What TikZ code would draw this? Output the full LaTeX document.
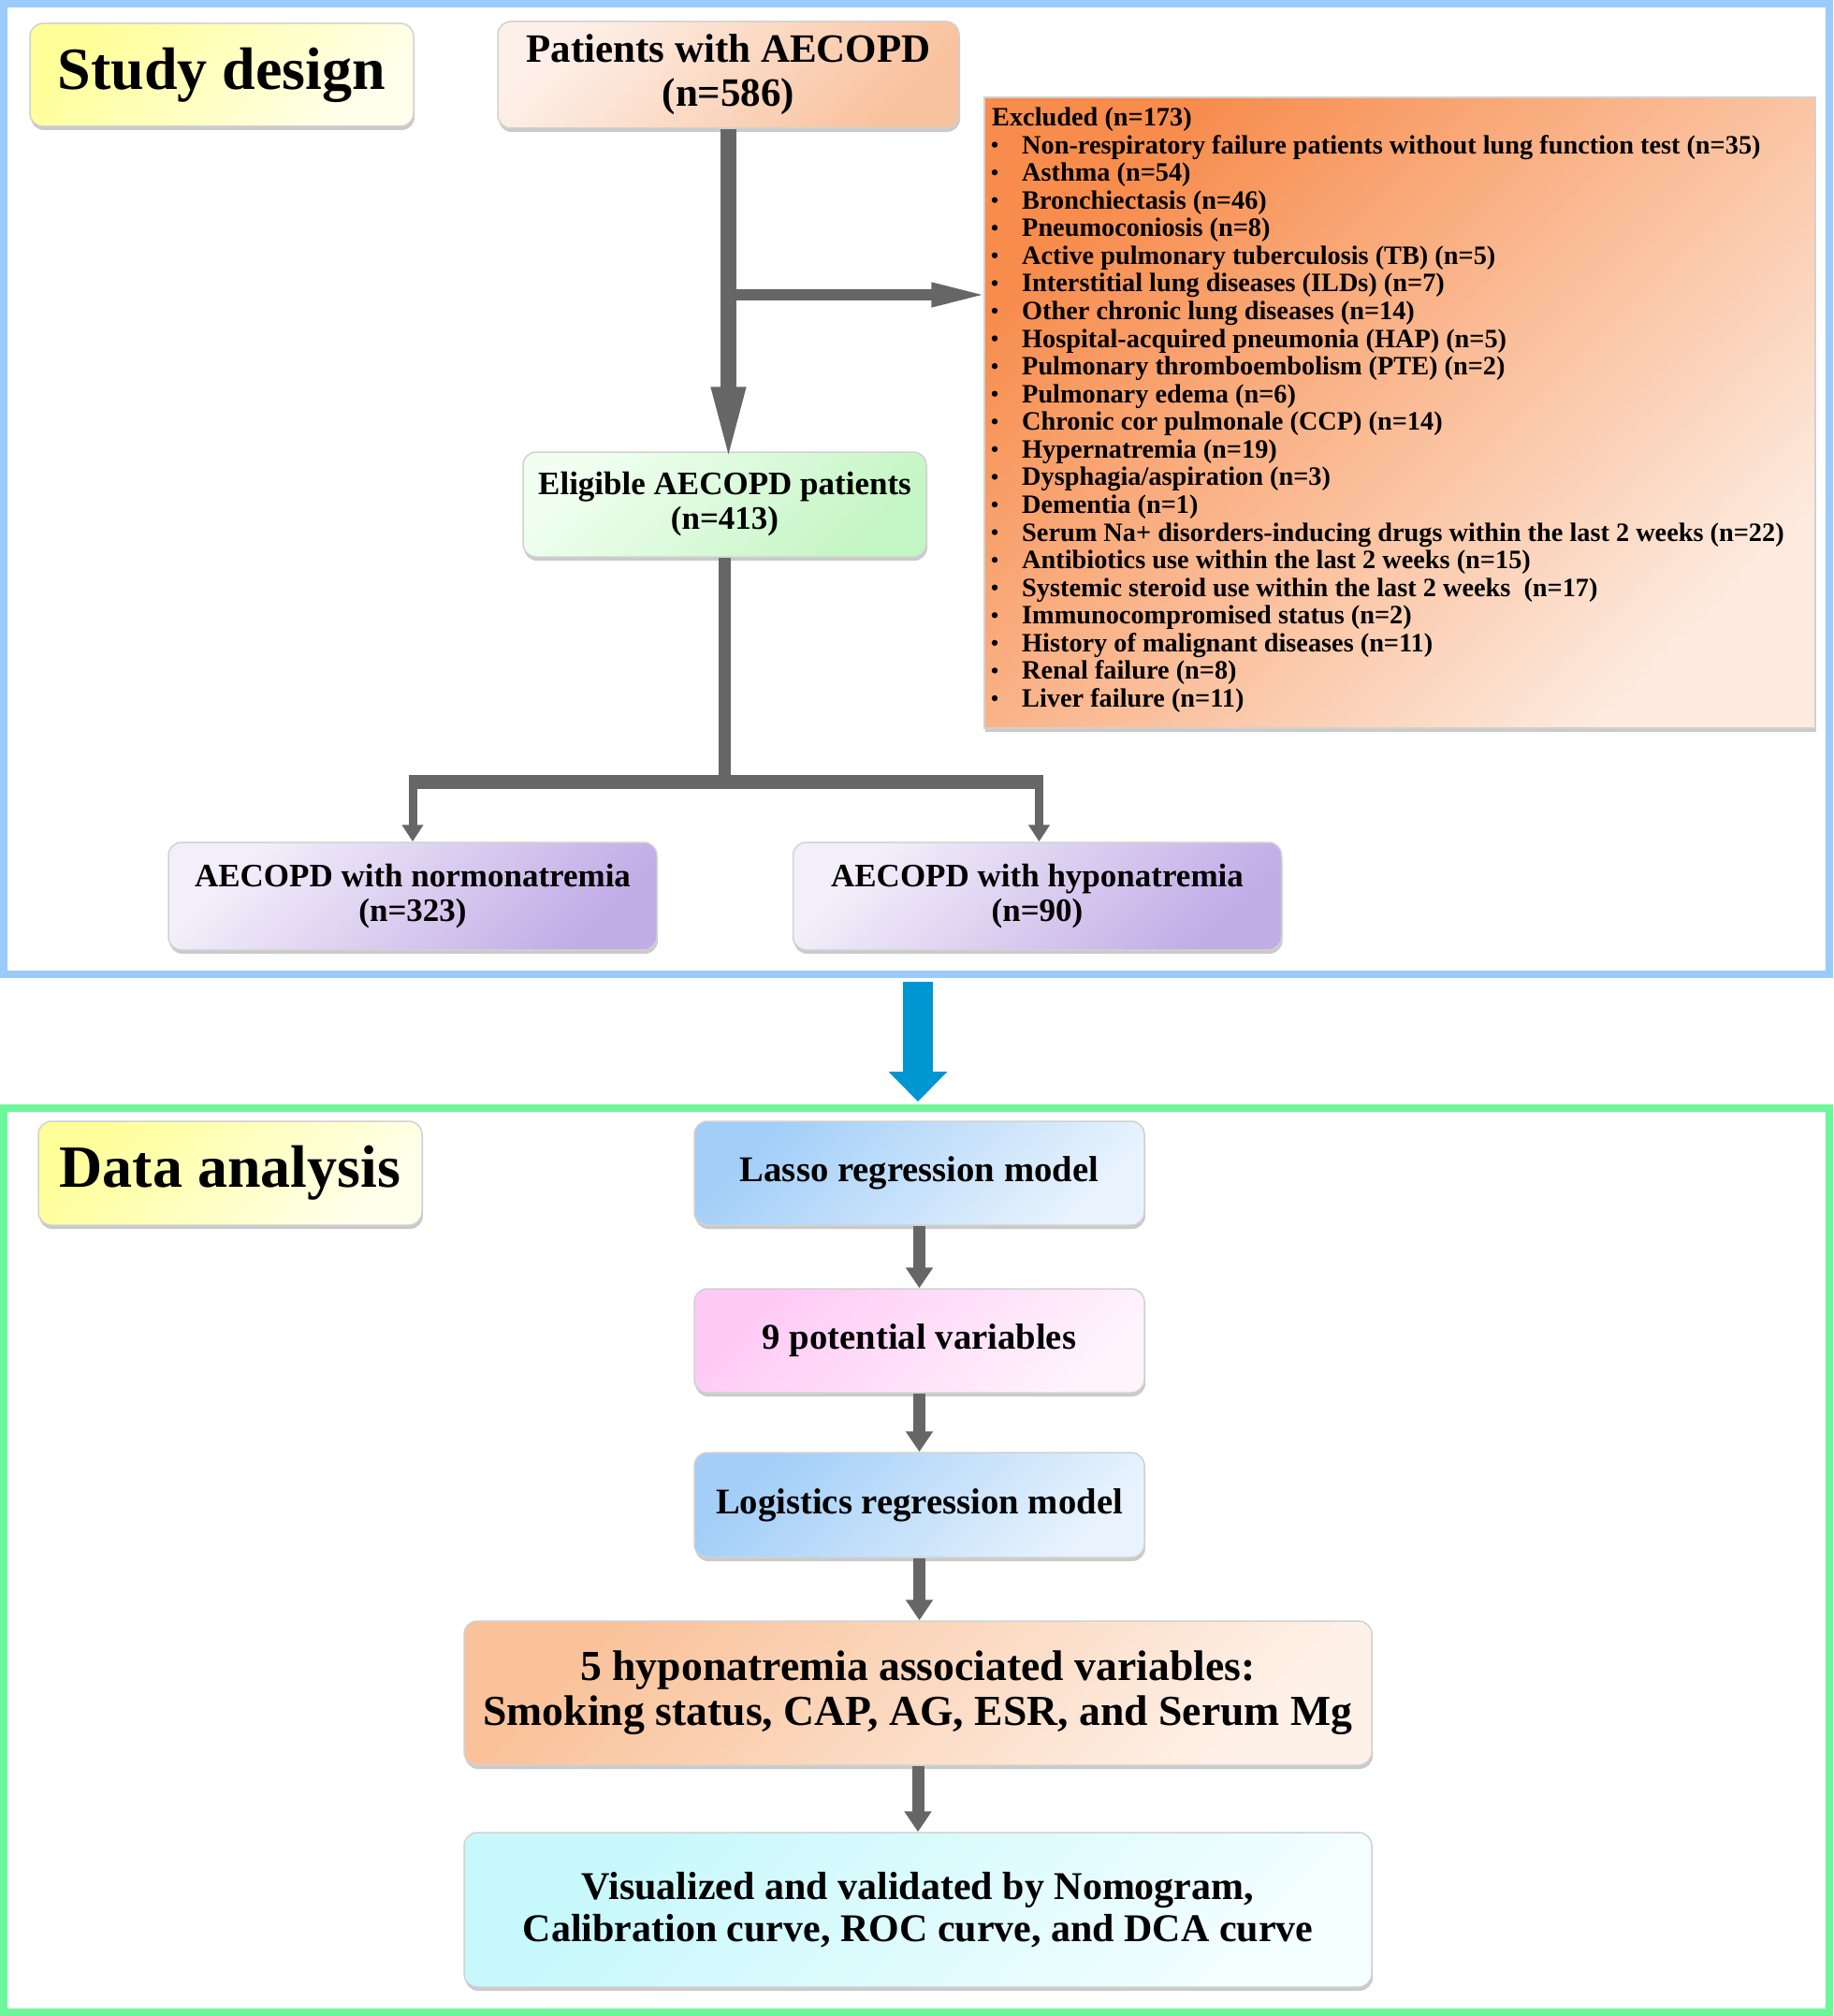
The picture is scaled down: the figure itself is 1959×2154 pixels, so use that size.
\documentclass[tikz,border=0pt]{standalone}
\usepackage{fontspec}
\setmainfont{Liberation Serif}
\usetikzlibrary{arrows.meta}
\usetikzlibrary{shadows}

\definecolor{frameblue}{HTML}{9BCBFA}
\definecolor{framegreen}{HTML}{6CF79A}
\definecolor{flowgray}{HTML}{666666}
\definecolor{arrowblue}{HTML}{0096D2}
\definecolor{yelA}{HTML}{FFFF99}
\definecolor{yelB}{HTML}{FFFFEC}
\definecolor{peachA}{HTML}{FDF0E8}
\definecolor{peachB}{HTML}{F9C29E}
\definecolor{exA}{HTML}{F78C4C}
\definecolor{exB}{HTML}{FDEBDF}
\definecolor{greenA}{HTML}{F0FFF0}
\definecolor{greenB}{HTML}{C4F5C4}
\definecolor{lilacA}{HTML}{F3EFFA}
\definecolor{lilacB}{HTML}{C2ACE6}
\definecolor{skyA}{HTML}{A2CEF8}
\definecolor{skyB}{HTML}{E8F3FD}
\definecolor{pinkA}{HTML}{FFCAF6}
\definecolor{pinkB}{HTML}{FFF3FC}
\definecolor{orA}{HTML}{F9C29A}
\definecolor{orB}{HTML}{FEF1E8}
\definecolor{cyanA}{HTML}{C6F8FC}
\definecolor{cyanB}{HTML}{F3FEFF}

\newcommand{\fsz}[2]{\bfseries\fontsize{#1pt}{#2pt}\selectfont}

\begin{document}
\begin{tikzpicture}
  [x=1pt, y=-1pt,
   frame/.style={line width=8pt},
   grad/.style 2 args={top color=#1, bottom color=#2, shading angle=45},
   box/.style={draw=black!18, line width=1.5pt, rounded corners=14pt, align=center,
     inner sep=4pt, text=black,
     drop shadow={shadow xshift=1pt, shadow yshift=-4pt, opacity=.35, fill=black!60}},
   titlebox/.style={box, font=\fsz{64}{70}},
   exbox/.style={draw=black!18, line width=1.5pt,
     drop shadow={shadow xshift=1pt, shadow yshift=-4pt, opacity=.35, fill=black!60}},
   exline/.style={inner sep=0pt, anchor=base west, font=\fsz{28.3}{30}},
   mainflow/.style={draw=flowgray, line width=17pt, shorten >=-16pt, -{Triangle[width=32pt,length=85pt]}},
   sideflow/.style={draw=flowgray, line width=12pt, shorten >=-7pt, -{Triangle[width=23pt,length=63pt]}},
   trunk/.style={draw=flowgray, line width=13pt},
   bar/.style={draw=flowgray, line width=15pt},
   forkflow/.style={draw=flowgray, line width=9pt, -{Triangle[width=22pt,length=18pt]}},
   flow/.style={draw=flowgray, line width=13pt, -{Triangle[width=28pt,length=22pt]}},
   bigflow/.style={draw=arrowblue, line width=32pt, -{Triangle[width=61pt,length=32pt]}}]
  \useasboundingbox (0,0) rectangle (1959,2154);

  % frames
  \draw[frame, draw=frameblue] (4,4) rectangle (1955,1041);
  \draw[frame, draw=framegreen] (4,1184) rectangle (1955,2150);

  % study design
  \node[titlebox, grad={yelA}{yelB}, minimum width=410pt, minimum height=110pt] (study) at (237,80) {Study design};
  \node[box, grad={peachA}{peachB}, font=\fsz{43}{47}, minimum width=493pt, minimum height=114pt] (patients) at (778.5,80) {Patients with AECOPD\\(n=586)};
  \node[exbox, grad={exA}{exB}, minimum width=888pt, minimum height=674pt] (excluded) at (1496,441) {};
  \node[box, grad={greenA}{greenB}, font=\fsz{35}{37}, minimum width=431pt, minimum height=112pt] (eligible) at (774.5,539) {Eligible AECOPD patients\\(n=413)};
  \node[box, grad={lilacA}{lilacB}, font=\fsz{35}{37}, minimum width=522pt, minimum height=115pt] (normo) at (441,957.5) {AECOPD with normonatremia\\(n=323)};
  \node[box, grad={lilacA}{lilacB}, font=\fsz{35}{37}, minimum width=522pt, minimum height=115pt] (hypo) at (1108.5,957.5) {AECOPD with hyponatremia\\(n=90)};

  % excluded list
  \node[exline] (ex0) at (1060,134.5) {Excluded (n=173)};
  \foreach \t [count=\i] in {Non-respiratory failure patients without lung function test (n=35),
    Asthma (n=54), Bronchiectasis (n=46), Pneumoconiosis (n=8),
    Active pulmonary tuberculosis (TB) (n=5), Interstitial lung diseases (ILDs) (n=7),
    Other chronic lung diseases (n=14), Hospital-acquired pneumonia (HAP) (n=5),
    Pulmonary thromboembolism (PTE) (n=2), Pulmonary edema (n=6),
    Chronic cor pulmonale (CCP) (n=14), Hypernatremia (n=19),
    Dysphagia/aspiration (n=3), Dementia (n=1),
    Serum Na+ disorders-inducing drugs within the last 2 weeks (n=22),
    Antibiotics use within the last 2 weeks (n=15),
    Systemic steroid use within the last 2 weeks~ (n=17),
    Immunocompromised status (n=2), History of malignant diseases (n=11),
    Renal failure (n=8), Liver failure (n=11)}{
    \fill (1063,{125+29.57*\i}) circle (3.2pt);
    \node[exline] (ex\i) at (1092,{134.5+29.57*\i}) {\t};
  }

  % connectors, top part
  \coordinate (split) at (786,315);
  \coordinate (fork) at (774,835);
  \draw[mainflow] (patients.south) -- (patients.south |- eligible.north);
  \draw[sideflow] (split) -- (split -| excluded.west);
  \draw[trunk] (eligible.south) -- (eligible.south |- fork);
  \draw[bar] ([xshift=-4pt]normo.north |- fork) -- ([xshift=6pt]hypo.north |- fork);
  \draw[forkflow] (normo.north |- fork) -- (normo.north);
  \draw[forkflow] ([xshift=2pt]hypo.north |- fork) -- ([xshift=2pt]hypo.north);

  % between the parts
  \coordinate (bluetop) at (981,1049);
  \coordinate (bluetip) at (981,1177);
  \draw[bigflow] (bluetop) -- (bluetip);

  % data analysis
  \node[titlebox, grad={yelA}{yelB}, minimum width=410pt, minimum height=111pt] (data) at (246,1253.5) {Data analysis};
  \node[box, grad={skyA}{skyB}, font=\fsz{38.7}{42}, minimum width=481pt, minimum height=111pt] (lasso) at (982.5,1253.5) {Lasso regression model};
  \node[box, grad={pinkA}{pinkB}, font=\fsz{38.7}{42}, minimum width=481pt, minimum height=111pt] (pot) at (982.5,1432.5) {9 potential variables};
  \node[box, grad={skyA}{skyB}, font=\fsz{38.7}{42}, minimum width=481pt, minimum height=112pt] (logit) at (982.5,1608) {Logistics regression model};
  \node[box, grad={orA}{orB}, font=\fsz{45.7}{48}, minimum width=970pt, minimum height=154pt] (assoc) at (981,1809) {5 hyponatremia associated variables:\\Smoking status, CAP, AG, ESR, and Serum Mg};
  \node[box, grad={cyanA}{cyanB}, font=\fsz{42}{45}, minimum width=970pt, minimum height=165pt] (visual) at (981,2040.5) {Visualized and validated by Nomogram,\\Calibration curve, ROC curve, and DCA curve};

  \foreach \a/\b in {lasso/pot, pot/logit, logit/assoc, assoc/visual}
    \draw[flow] (\a.south) -- (\a.south |- \b.north);
\end{tikzpicture}
\end{document}
